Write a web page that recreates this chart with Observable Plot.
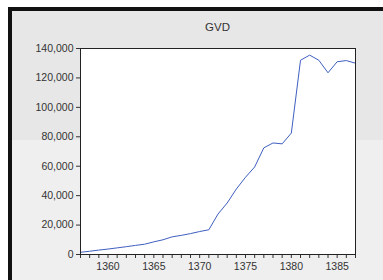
<!DOCTYPE html>
<html>
<head>
<meta charset="utf-8">
<script src="https://cdn.jsdelivr.net/npm/d3@7"></script>
<script src="https://cdn.jsdelivr.net/npm/@observablehq/plot@0.6"></script>
<style>
  html, body { margin: 0; padding: 0; background: #ffffff; }
  #wrap { position: relative; width: 383px; height: 280px; overflow: hidden; }
  #panel { position: absolute; left: 8px; top: 7px; width: 375px; height: 273px;
           background: #e7e7e7; border-left: 4px solid #111; border-top: 4px solid #111; box-sizing: border-box; }
  #lower { position: absolute; left: 12px; top: 140px; width: 371px; height: 140px; background: #efefef; }
  #title { position: absolute; left: 80px; width: 275px; top: 21px; text-align: center;
           font-family: "Liberation Sans", Arial, sans-serif; font-size: 11.5px; color: #333; }
  #chart { position: absolute; left: 0; top: 0; }
</style>
</head>
<body>
<div id="wrap">
  <div id="panel"></div>
  <div id="lower"></div>
  <div id="title">GVD</div>
  <div id="chart"></div>
</div>
<script>
const years = [1357,1358,1359,1360,1361,1362,1363,1364,1365,1366,1367,1368,1369,1370,1371,1372,1373,1374,1375,1376,1377,1378,1379,1380,1381,1382,1383,1384,1385,1386,1387];
const gvd = [1500,2200,3000,3700,4500,5300,6200,7000,8600,10000,12000,13000,14200,15600,16800,27500,35000,44500,52500,59500,72500,75800,75200,82500,132000,135500,132000,123500,131000,131800,130000];
const yTicks = [0,20000,40000,60000,80000,100000,120000,140000];
const xLabelYears = [1360,1365,1370,1375,1380,1385];

const data = years.map((y, i) => ({year: y, value: gvd[i]}));

const chart = Plot.plot({
  width: 383,
  height: 280,
  marginLeft: 80,
  marginRight: 28,
  marginTop: 48,
  marginBottom: 26,
  style: {background: "transparent", fontFamily: "Liberation Sans, Arial, sans-serif", fontSize: "10.5px", color: "#333"},
  x: {domain: [1357, 1387]},
  y: {domain: [0, 140000]},
  marks: [
    Plot.frame({fill: "white", stroke: null}),
    Plot.axisY({ticks: yTicks, tickFormat: d3.format(","), tickSize: 4, tickPadding: 3, label: null, stroke: "#333"}),
    Plot.axisX({ticks: years, tickFormat: d => xLabelYears.includes(d) ? String(d) : "", tickSize: 4, tickPadding: 4, label: null, stroke: "#333"}),
    Plot.line(data, {x: "year", y: "value", stroke: "#3f5fc0", strokeWidth: 1}),
    Plot.frame({stroke: "#222", strokeWidth: 1})
  ]
});
document.getElementById("chart").appendChild(chart);
</script>
</body>
</html>
